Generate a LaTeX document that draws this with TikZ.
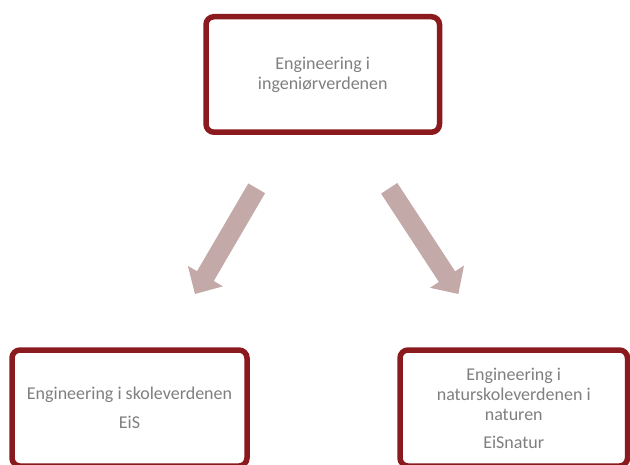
\documentclass[tikz,border=0pt]{standalone}
\usepackage{fontspec}
\setmainfont{Carlito}
\definecolor{boxred}{HTML}{8B1A1E}
\definecolor{arrowpink}{HTML}{C4A9A9}
\definecolor{txtgray}{HTML}{7F7F7F}
\begin{document}
\begin{tikzpicture}[x=1pt,y=-1pt,
  box/.style={draw=boxred, line width=5.5pt, rounded corners=8pt, fill=white,
    align=center, text=txtgray, font=\fontsize{18}{20}\selectfont, inner sep=0pt},
  bigarrow/.style={fill=arrowpink}]
\useasboundingbox (0,0) rectangle (630,464);
\clip (0,0) rectangle (630,464);
\node[box, minimum width=233.5pt, minimum height=115.5pt] (top) at (322.75,74.45)
  {Engineering i\\ingeniørverdenen};
\node[box, minimum width=235pt, minimum height=116pt] (left) at (129.5,408)
  {Engineering i skoleverdenen\\[9pt]EiS};
\node[box, minimum width=227.5pt, minimum height=116pt] (right) at (513.75,408)
  {Engineering i\\naturskoleverdenen i\\naturen\\[8pt]EiSnatur};
% block arrows
\begin{scope}[shift={(256.7,188.3)}, rotate=239.7]
  \fill[bigarrow] (0,-9.7) -- (101.7,-9.7) -- (101.7,-20.3) -- (122.4,0)
    -- (101.7,20.3) -- (101.7,9.7) -- (0,9.7) -- cycle;
\end{scope}
\begin{scope}[shift={(389.2,188.3)}, rotate=-56.8]
  \fill[bigarrow] (0,-9.7) -- (105.6,-9.7) -- (105.6,-20.3) -- (126.3,0)
    -- (105.6,20.3) -- (105.6,9.7) -- (0,9.7) -- cycle;
\end{scope}
\end{tikzpicture}
\end{document}
